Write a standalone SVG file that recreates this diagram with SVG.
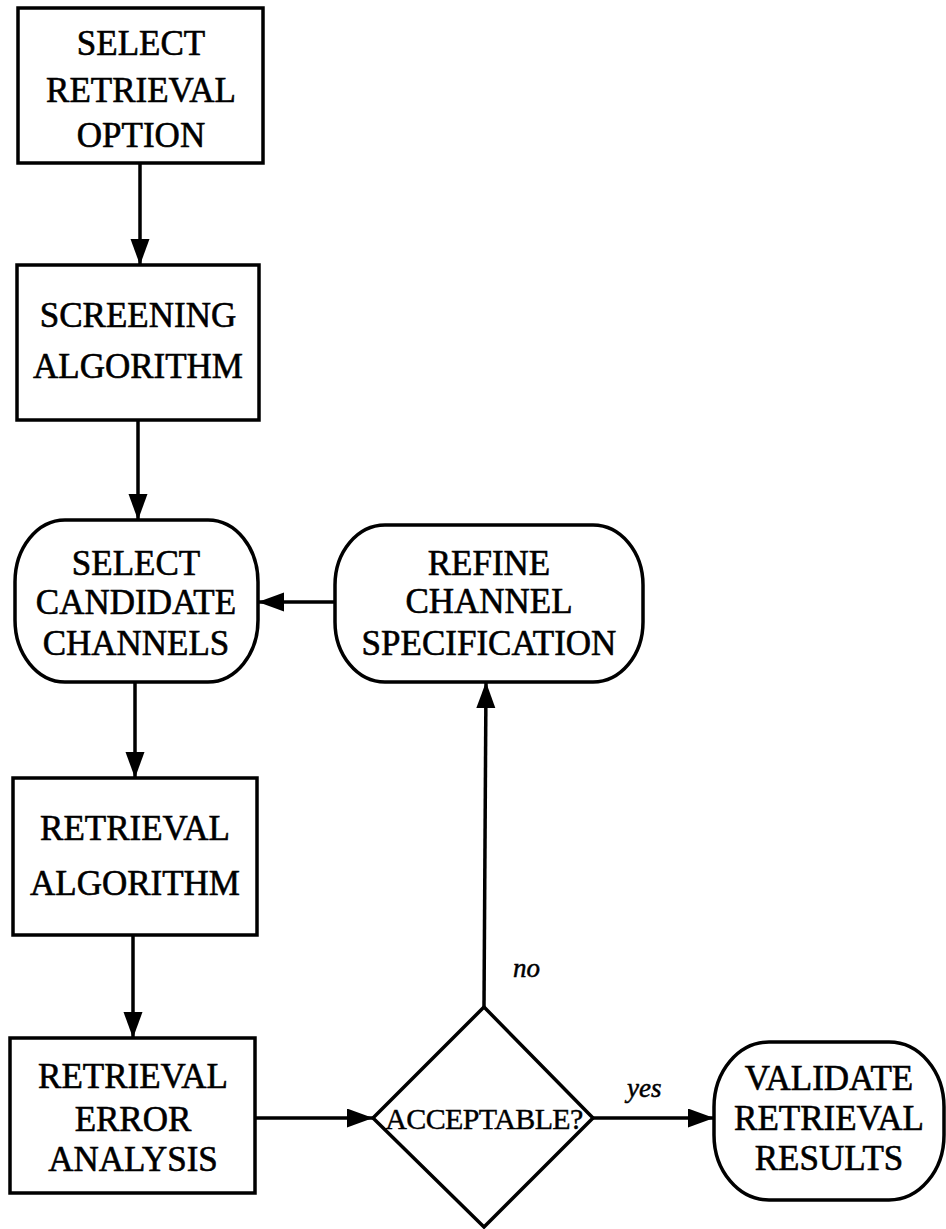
<svg xmlns="http://www.w3.org/2000/svg" width="946" height="1229" viewBox="0 0 946 1229">
<style>
.box{fill:#fff;stroke:#000;stroke-width:3.5}
.t{font-family:"Liberation Serif","Times New Roman",serif;font-size:35px;text-anchor:middle;fill:#000;stroke:#000;stroke-width:0.6}
.d{font-family:"Liberation Serif","Times New Roman",serif;font-size:30px;letter-spacing:-0.6px;text-anchor:middle;fill:#000;stroke:#000;stroke-width:0.4}
.lbl{font-family:"Liberation Serif","Times New Roman",serif;font-size:27px;font-style:italic;fill:#000;stroke:#000;stroke-width:0.5}
.c{stroke:#000;stroke-width:3.5;fill:none}
</style>
<defs>
<marker id="ah" markerUnits="userSpaceOnUse" markerWidth="27" markerHeight="21" refX="26" refY="9.5" orient="auto">
<path d="M0,0 L26,9.5 L0,19 Z" fill="#000"/>
</marker>
</defs>
<rect width="946" height="1229" fill="#fff"/>
<g id="connectors">
<line class="c" x1="140" y1="163" x2="140" y2="265" marker-end="url(#ah)"/>
<line class="c" x1="138" y1="420" x2="138" y2="520" marker-end="url(#ah)"/>
<line class="c" x1="335" y1="602" x2="258" y2="602" marker-end="url(#ah)"/>
<line class="c" x1="135" y1="682" x2="135" y2="778" marker-end="url(#ah)"/>
<line class="c" x1="133" y1="935" x2="133" y2="1038" marker-end="url(#ah)"/>
<line class="c" x1="255" y1="1118" x2="373" y2="1118" marker-end="url(#ah)"/>
<line class="c" x1="484" y1="1007" x2="486" y2="682" marker-end="url(#ah)"/>
<line class="c" x1="593" y1="1118" x2="714" y2="1118" marker-end="url(#ah)"/>
<text class="lbl" x="513" y="977">no</text>
<text class="lbl" x="627" y="1097">yes</text>
</g>
<g id="select-option">
<rect class="box" x="18" y="8" width="245" height="155"/>
<text class="t" x="141" y="55">SELECT</text>
<text class="t" x="141" y="102">RETRIEVAL</text>
<text class="t" x="141" y="147">OPTION</text>
</g>
<g id="screening">
<rect class="box" x="17" y="265" width="242" height="155"/>
<text class="t" x="138" y="327">SCREENING</text>
<text class="t" x="138" y="378">ALGORITHM</text>
</g>
<g id="select-channels">
<rect class="box" x="15" y="520" width="243" height="162" rx="50" ry="62"/>
<text class="t" x="136" y="575">SELECT</text>
<text class="t" x="136" y="614">CANDIDATE</text>
<text class="t" x="136" y="655">CHANNELS</text>
</g>
<g id="refine">
<rect class="box" x="335" y="525" width="308" height="157" rx="50" ry="60"/>
<text class="t" x="489" y="575">REFINE</text>
<text class="t" x="489" y="613">CHANNEL</text>
<text class="t" x="489" y="655">SPECIFICATION</text>
</g>
<g id="retrieval-algorithm">
<rect class="box" x="13" y="778" width="244" height="157"/>
<text class="t" x="135" y="840">RETRIEVAL</text>
<text class="t" x="135" y="895">ALGORITHM</text>
</g>
<g id="error-analysis">
<rect class="box" x="10" y="1038" width="245" height="155"/>
<text class="t" x="133" y="1088">RETRIEVAL</text>
<text class="t" x="133" y="1131">ERROR</text>
<text class="t" x="133" y="1171">ANALYSIS</text>
</g>
<g id="acceptable">
<polygon class="box" points="484,1007 593,1118 484,1227 373,1118"/>
<text class="d" x="484" y="1129">ACCEPTABLE?</text>
</g>
<g id="validate">
<rect class="box" x="714" y="1042" width="230" height="158" rx="55" ry="65"/>
<text class="t" x="829" y="1090">VALIDATE</text>
<text class="t" x="829" y="1130">RETRIEVAL</text>
<text class="t" x="829" y="1170">RESULTS</text>
</g>
</svg>
